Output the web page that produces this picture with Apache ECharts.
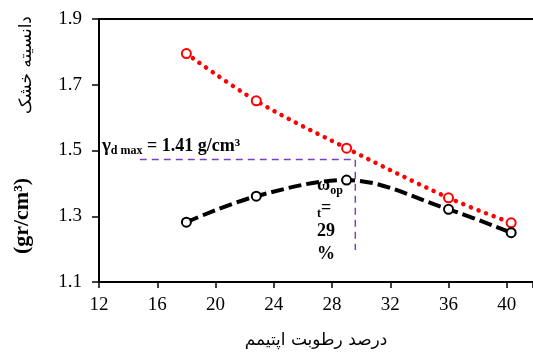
<!DOCTYPE html>
<html>
<head>
<meta charset="utf-8">
<script src="https://cdn.jsdelivr.net/npm/echarts@6/dist/echarts.min.js"></script>
<style>
  html, body { margin: 0; padding: 0; background: #fff; }
  #chart { width: 533px; height: 353px; }
</style>
</head>
<body>
<div id="chart"></div>
<script>
// moisture (%) and dry density (gr/cm3)
const moistureRed = [18, 22.8, 29, 36, 40.3];
const densityRed = [1.795, 1.651, 1.507, 1.356, 1.280];
const moistureBlack = [18, 22.8, 29, 36, 40.3];
const densityBlack = [1.282, 1.361, 1.410, 1.321, 1.250];

// purple guide lines (gamma max / optimum moisture)
const guideX = [14.8, 29.6, 29.6];
const guideY = [1.473, 1.473, 1.197];

const xTickLabels = ['12', '16', '20', '24', '28', '32', '36', '40'];
const yTickLabels = ['1.1', '1.3', '1.5', '1.7', '1.9'];

const serif = '"Liberation Serif", "DejaVu Serif", serif';
const persian = '"DejaVu Sans", "Noto Sans", sans-serif';

function zip(xs, ys) {
    return xs.map(function (x, i) { return [x, ys[i]]; });
}

const chartDom = document.getElementById('chart');
const myChart = echarts.init(chartDom);

const option = {
    animation: false,
    backgroundColor: '#fff',
    grid: { left: 99, right: 0, top: 19, bottom: 71, containLabel: false, outerBoundsMode: 'none' },
    xAxis: [
        {
            type: 'value',
            min: 12,
            max: 41.8,
            interval: 4,
            splitLine: { show: false },
            axisLine: { lineStyle: { color: '#000', width: 2 } },
            axisTick: { show: true, inside: false, length: 6, lineStyle: { color: '#000', width: 1.5 } },
            axisLabel: {
                color: '#000', fontFamily: serif, fontSize: 19, margin: 14,
                formatter: function (v) {
                    var s = String(Math.round(v));
                    return Math.abs(v - Math.round(v)) < 1e-6 && xTickLabels.indexOf(s) >= 0 ? s : '';
                }
            },
            name: 'درصد رطوبت اپتیمم',
            nameLocation: 'middle',
            nameGap: 50,
            nameTextStyle: { color: '#000', fontFamily: persian, fontSize: 17 }
        },
        {
            type: 'value',
            position: 'top',
            min: 12,
            max: 41.8,
            axisLine: { show: true, onZero: false, lineStyle: { color: '#000', width: 2 } },
            axisTick: { show: false },
            axisLabel: { show: false },
            splitLine: { show: false }
        }
    ],
    yAxis: {
        type: 'value',
        min: 1.1,
        max: 1.9,
        interval: 0.2,
        splitLine: { show: false },
        axisLine: { show: true, lineStyle: { color: '#000', width: 2 } },
        axisTick: { show: true, length: 7, lineStyle: { color: '#000', width: 1.5 } },
        axisLabel: {
            color: '#000', fontFamily: serif, fontSize: 19, margin: 17,
            formatter: function (v) {
                var s = v.toFixed(1);
                return yTickLabels.indexOf(s) >= 0 ? s : '';
            }
        }
    },
    series: [
        {
            name: 'guide',
            type: 'line',
            data: zip(guideX, guideY),
            symbol: 'none',
            lineStyle: { color: '#7b3fc4', width: 1.5, type: [7, 5] },
            z: 1
        },
        {
            name: 'red',
            type: 'line',
            data: zip(moistureRed, densityRed),
            smooth: 0.35,
            symbol: 'emptyCircle',
            symbolSize: 9,
            itemStyle: { color: '#ff0000', borderColor: '#ff0000', borderWidth: 2 },
            lineStyle: { color: '#ff0000', width: 4.5, type: [0.1, 8], cap: 'round' },
            z: 3
        },
        {
            name: 'black',
            type: 'line',
            data: zip(moistureBlack, densityBlack),
            smooth: 0.35,
            symbol: 'emptyCircle',
            symbolSize: 9,
            itemStyle: { color: '#000', borderColor: '#000', borderWidth: 2 },
            lineStyle: { color: '#000', width: 4, type: [13, 5] },
            z: 3
        }
    ]
};

myChart.setOption(option);

// annotations placed at data positions
const gammaPos = myChart.convertToPixel({ gridIndex: 0 }, [12.2, 1.514]);
const omegaPos = myChart.convertToPixel({ gridIndex: 0 }, [26.97, 1.428]);

myChart.setOption({
    graphic: [
        {
            type: 'text',
            x: gammaPos[0],
            y: gammaPos[1],
            z: 10,
            style: {
                text: '{g|γ}{s|d max}{b| = 1.41 g/cm³}',
                verticalAlign: 'middle',
                rich: {
                    g: { fontFamily: serif, fontSize: 19, fontWeight: 'bold', fill: '#000', lineHeight: 22 },
                    s: { fontFamily: serif, fontSize: 12, fontWeight: 'bold', fill: '#000', lineHeight: 22, verticalAlign: 'bottom' },
                    b: { fontFamily: serif, fontSize: 18, fontWeight: 'bold', fill: '#000', lineHeight: 22 }
                }
            }
        },
        {
            type: 'text',
            x: omegaPos[0],
            y: omegaPos[1],
            z: 10,
            style: {
                text: '{w|ω}{s|op}\n{s|t}{w|=}\n{w|29}\n{w|%}',
                verticalAlign: 'top',
                rich: {
                    w: { fontFamily: serif, fontSize: 18, fontWeight: 'bold', fill: '#000', lineHeight: 23 },
                    s: { fontFamily: serif, fontSize: 12, fontWeight: 'bold', fill: '#000', lineHeight: 23, verticalAlign: 'bottom' }
                }
            }
        },
        {
            type: 'text',
            x: 22,
            y: 216,
            rotation: Math.PI / 2,
            style: {
                text: '(gr/cm³)',
                font: 'bold 22px ' + serif,
                fill: '#000',
                align: 'center',
                verticalAlign: 'middle'
            }
        },
        {
            type: 'text',
            x: 27,
            y: 65,
            rotation: Math.PI / 2,
            style: {
                text: 'دانسیته خشک',
                font: '17px ' + persian,
                fill: '#000',
                align: 'center',
                verticalAlign: 'middle'
            }
        }
    ]
});

window.addEventListener('resize', function () { myChart.resize(); });
</script>
</body>
</html>
